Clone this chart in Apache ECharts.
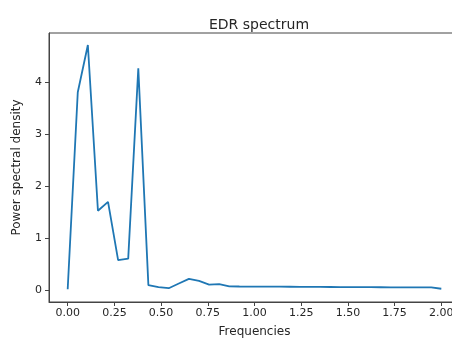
<!DOCTYPE html>
<html>
<head>
<meta charset="UTF-8">
<title>EDR spectrum</title>
<script src="https://cdn.jsdelivr.net/npm/echarts@6/dist/echarts.min.js"></script>
<style>
  html, body { margin: 0; padding: 0; background: #fff; }
  #main { width: 452px; height: 341px; }
</style>
</head>
<body>
<div id="main"></div>
<script>
// frequencies (x) and power spectral density (y)
var freqs = [0, 0.054, 0.108, 0.162, 0.216, 0.270, 0.324, 0.378, 0.432, 0.486,
    0.541, 0.595, 0.649, 0.703, 0.757, 0.811, 0.865, 0.919, 0.973, 1.027,
    1.081, 1.135, 1.189, 1.243, 1.297, 1.351, 1.405, 1.459, 1.514, 1.568,
    1.622, 1.676, 1.730, 1.784, 1.838, 1.892, 1.946, 2.0];
var psd = [0.01, 3.8, 4.71, 1.52, 1.69, 0.57, 0.60, 4.26, 0.09, 0.05,
    0.03, 0.12, 0.21, 0.17, 0.10, 0.11, 0.065, 0.063, 0.062, 0.061,
    0.060, 0.059, 0.058, 0.057, 0.056, 0.055, 0.054, 0.053, 0.052, 0.051,
    0.050, 0.049, 0.048, 0.047, 0.046, 0.046, 0.045, 0.02];
var xTicks = [0, 0.25, 0.5, 0.75, 1.0, 1.25, 1.5, 1.75, 2.0];
var yTicks = [0, 1, 2, 3, 4];

var font = 'DejaVu Sans';
var ink = '#262626';

var myChart = echarts.init(document.getElementById('main'));
var option = {
    animation: false,
    title: {
        text: 'EDR spectrum',
        left: 254,
        top: 13,
        textAlign: 'center',
        textStyle: {
            fontFamily: font,
            fontSize: 14,
            fontWeight: 'normal',
            color: ink
        }
    },
    grid: {
        left: 49,
        top: 33,
        width: 411,
        height: 269,
        outerBoundsMode: 'none',
        containLabel: false,
        show: true,
        borderColor: '#444',
        borderWidth: 1
    },
    xAxis: {
        type: 'value',
        min: -0.1,
        max: 2.1,
        name: 'Frequencies',
        nameLocation: 'middle',
        nameGap: 24,
        nameTextStyle: { fontFamily: font, fontSize: 12, color: ink },
        splitLine: { show: false },
        axisLine: { show: true, onZero: false, lineStyle: { color: '#444' } },
        axisTick: { show: true, length: 4, customValues: xTicks, lineStyle: { color: '#444' } },
        axisLabel: {
            customValues: xTicks,
            margin: 6,
            fontFamily: font,
            fontSize: 11,
            color: ink,
            formatter: function (v) { return v.toFixed(2); }
        }
    },
    yAxis: {
        type: 'value',
        min: -0.235,
        max: 4.94,
        name: 'Power spectral density',
        nameLocation: 'middle',
        nameGap: 26,
        nameTextStyle: { fontFamily: font, fontSize: 12, color: ink },
        splitLine: { show: false },
        axisLine: { show: true, onZero: false, lineStyle: { color: '#444' } },
        axisTick: { show: true, length: 4, customValues: yTicks, lineStyle: { color: '#444' } },
        axisLabel: {
            customValues: yTicks,
            margin: 7,
            fontFamily: font,
            fontSize: 11,
            color: ink
        }
    },
    series: [{
        type: 'line',
        data: freqs.map(function (f, i) { return [f, psd[i]]; }),
        showSymbol: false,
        lineStyle: { color: '#1f77b4', width: 1.8 }
    }]
};
myChart.setOption(option);
</script>
</body>
</html>
